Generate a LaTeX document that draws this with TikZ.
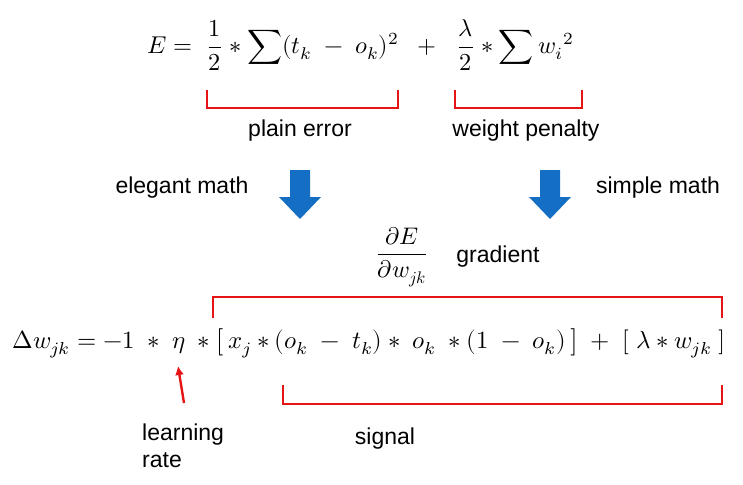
\documentclass[tikz,border=0pt]{standalone}
\usepackage{amsmath}
\usepackage{fontspec}
\setmainfont{Liberation Sans}
\usepackage{unicode-math}
\setmathfont{Latin Modern Math}
\usetikzlibrary{arrows.meta}
\definecolor{bred}{RGB}{230,20,20}
\definecolor{bblue}{RGB}{20,110,195}
\begin{document}
\begin{tikzpicture}[x=1pt,y=-1pt,
  lbl/.style={font=\fontsize{23}{27}\selectfont,inner sep=0pt},
  brk/.style={draw=bred,line width=2.6pt},
  barrow/.style={fill=bblue}]
\useasboundingbox (0,0) rectangle (743,484);
\node[inner sep=0pt] (top) at (361,45) {\resizebox{427pt}{!}{$\displaystyle E=\;\frac{1}{2}\ast\sum(t_k\;-\;o_k)^2\;\;+\;\;\frac{\lambda}{2}\ast\sum {w_i}^2$}};
\draw[brk] (207,90) -- (207,108) -- (398,108) -- (398,90);
\draw[brk] (455,90) -- (455,108) -- (582,108) -- (582,90);
\node[lbl] (pe) at (300,131) {plain error};
\node[lbl] (wp) at (526,131) {weight penalty};
\foreach \cx in {300,550}{
  \fill[barrow] (\cx-10,170) -- (\cx+10,170) -- (\cx+10,197) -- (\cx+21,197) -- (\cx,219) -- (\cx-21,197) -- (\cx-10,197) -- cycle;}
\node[lbl] (em) at (182,188) {elegant math};
\node[lbl] (sm) at (658,188) {simple math};
\node[inner sep=0pt] (grad) at (402,257) {\fontsize{24}{28}\selectfont$\dfrac{\partial E}{\partial w_{jk}}$};
\node[lbl] (gl) at (498,257) {gradient};
\draw[brk] (213,318) -- (213,297) -- (722,297) -- (722,318);
\node[inner sep=0pt] (main) at (369,343) {\resizebox{713pt}{!}{$\Delta w_{jk}=-1\;\ast\;\eta\;\ast\bigl[\,x_j\ast(o_k\;-\;t_k)\ast\;o_k\;\ast(1\;-\;o_k)\,\bigr]\;+\;[\;\lambda\ast w_{jk}\;]$}};
\coordinate (lrs) at (184,403);
\coordinate (lre) at (178,366);
\draw[bred,line width=2.4pt,-{Latex[length=9pt,width=9pt]}] (lrs) -- (lre);
\draw[brk] (283,385) -- (283,404) -- (722,404) -- (722,385);
\node[lbl,align=left,anchor=west] (lr) at (142,446) {learning\\rate};
\node[lbl] (sg) at (385,439) {signal};
\end{tikzpicture}
\end{document}
